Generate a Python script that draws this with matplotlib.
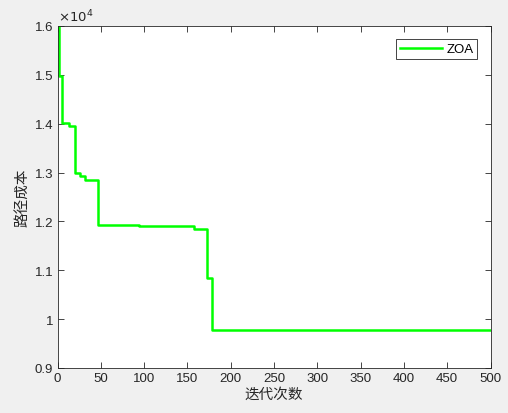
import numpy as np
import matplotlib.pyplot as plt

plt.rcParams['font.family'] = ['Liberation Sans', 'Noto Sans CJK SC', 'DejaVu Sans']

# iteration where each new best cost starts, and the cost value
change_iter = [1, 2, 5, 13, 20, 26, 32, 47, 94, 158, 173, 178, 500]
best_cost = [15990, 14980, 14010, 13960, 12985, 12935, 12855, 11935, 11905, 11840, 10840, 9780, 9780]

fig = plt.figure(figsize=(5.08, 4.14), dpi=100, facecolor='#f0f0f0')
ax = fig.add_axes([0.1132, 0.1087, 0.8524, 0.8261])

ax.plot(change_iter, np.array(best_cost) / 1e4, color='#00ff00', linewidth=1.8,
        drawstyle='steps-post', label='ZOA')

ax.set_xlim(0, 500)
ax.set_ylim(0.9, 1.6)
ax.set_xticks(np.arange(0, 501, 50))
ax.set_yticks([0.9, 1.0, 1.1, 1.2, 1.3, 1.4, 1.5, 1.6])
ax.set_yticklabels(['0.9', '1', '1.1', '1.2', '1.3', '1.4', '1.5', '1.6'])

axc = '#262626'
ax.tick_params(direction='in', top=True, right=True, length=4, width=0.6,
               labelsize=9.5, colors=axc, labelcolor=axc, pad=3)
for s in ax.spines.values():
    s.set_color(axc)
    s.set_linewidth(0.6)

ax.text(0.0, 1.005, r'$\times10^{4}$', transform=ax.transAxes, fontsize=9.5,
        color=axc, va='bottom', ha='left')

ax.set_xlabel('迭代次数', fontsize=10.5, color=axc, family=['Noto Sans CJK SC'], labelpad=2)
ax.set_ylabel('路径成本', fontsize=10.5, color=axc, family=['Noto Sans CJK SC'], labelpad=4)

leg = ax.legend(loc='upper right', fontsize=9.5, fancybox=False, framealpha=1,
                edgecolor=axc, handlelength=3.2, borderaxespad=1.0,
                borderpad=0.3, handletextpad=0.3)
leg.get_frame().set_linewidth(0.6)

fig.savefig('out.png', dpi=100, facecolor=fig.get_facecolor())
